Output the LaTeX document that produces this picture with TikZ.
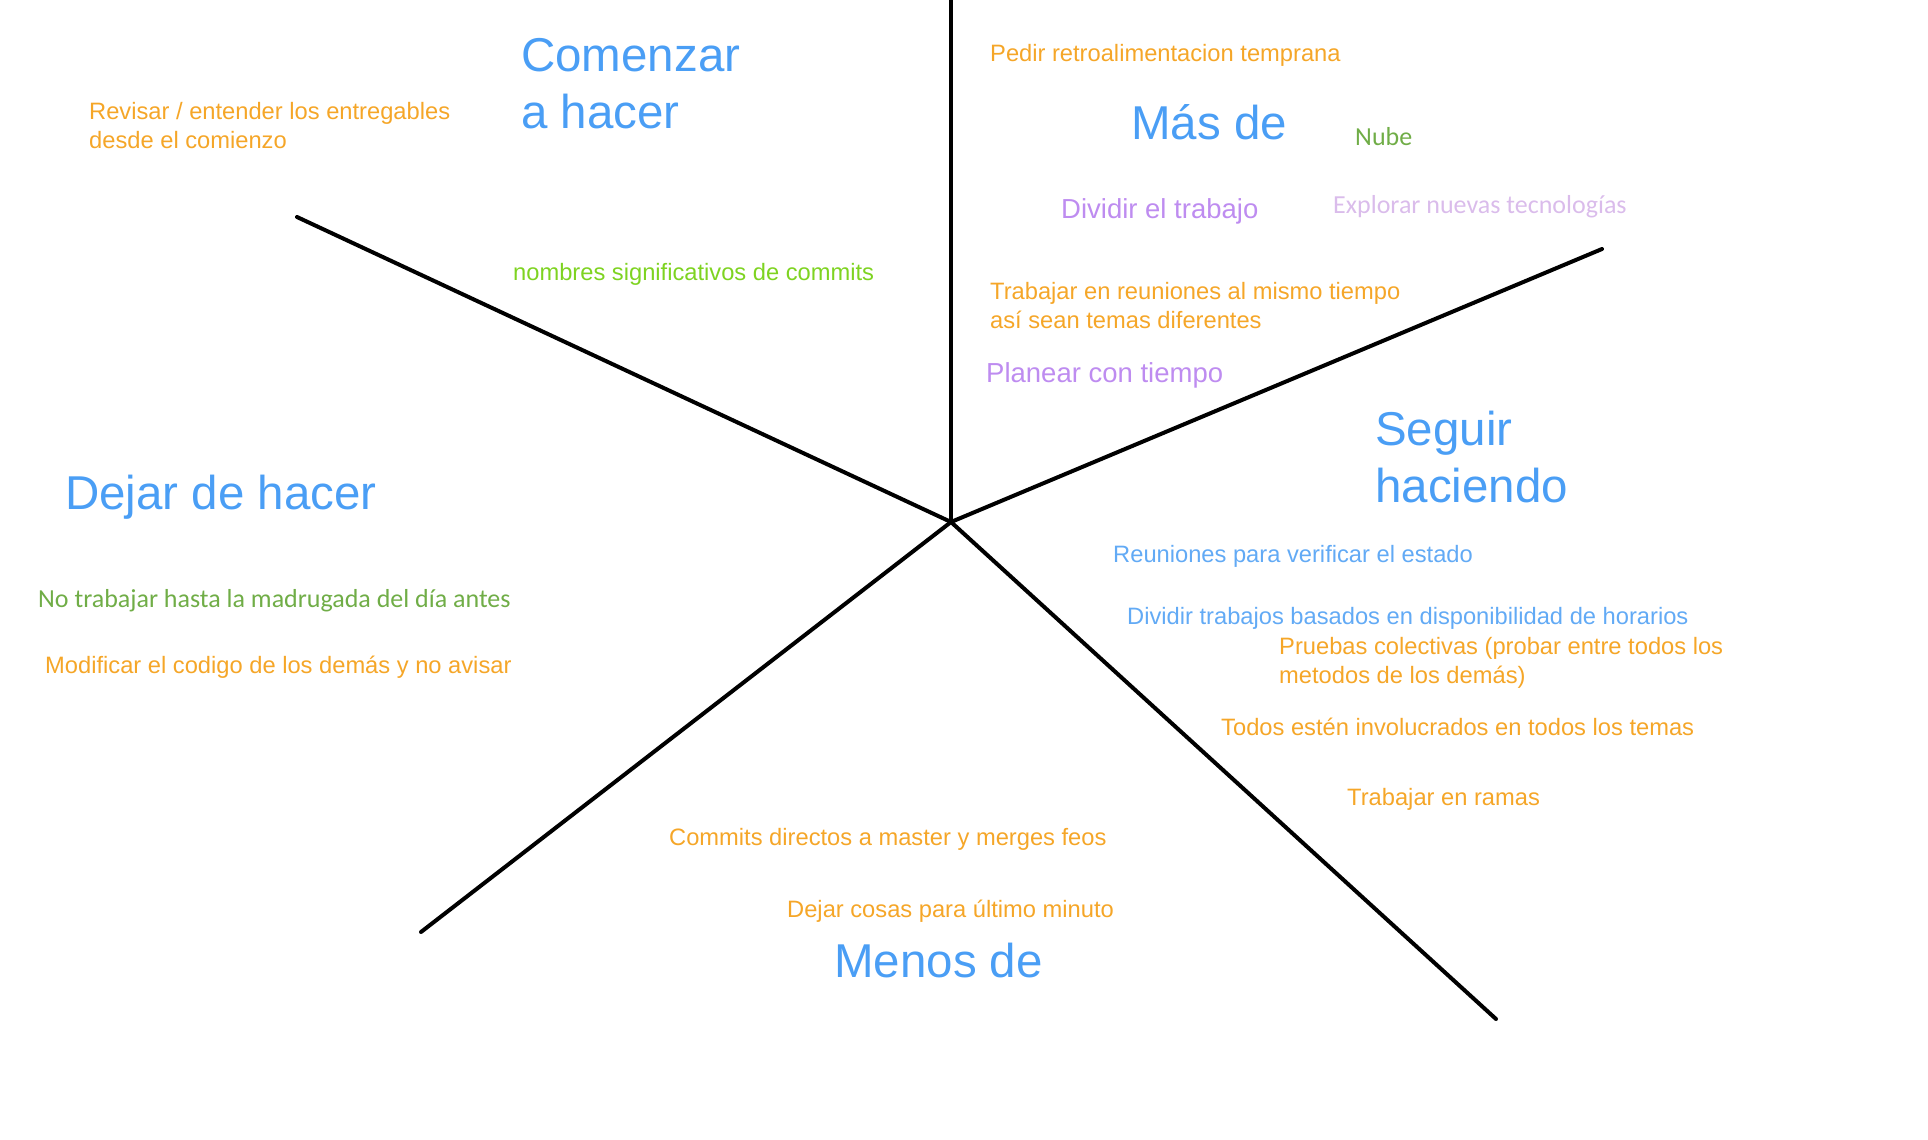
\documentclass[tikz,border=0pt]{standalone}
\usepackage{fontspec}
\setmainfont{Liberation Sans}
\newfontfamily\calibri{Carlito}
\usepackage{tikz}

\definecolor{azul}{RGB}{74,158,245}
\definecolor{azulclaro}{RGB}{98,170,245}
\definecolor{naranja}{RGB}{245,166,40}
\definecolor{verdeclaro}{RGB}{126,211,33}
\definecolor{verdeoscuro}{RGB}{112,173,71}
\definecolor{morado}{RGB}{190,140,240}
\definecolor{lila}{RGB}{218,188,235}

\begin{document}
\begin{tikzpicture}[
        x=1pt, y=-1pt,
        every node/.style = {
            anchor=base west,
            inner sep=0pt,
            align=left
        },
        titulo/.style = {
            text=azul,
            font=\fontsize{47.5}{57}\selectfont
        },
        nota/.style = {
            font=\fontsize{23.7}{29}\selectfont
        },
        notagrande/.style = {
            font=\fontsize{27.5}{33}\selectfont
        },
        notacal/.style = {
            font=\calibri\fontsize{26}{29}\selectfont
        },
        linea/.style = {
            line width=4pt,
            line cap=round
        }]
        \useasboundingbox (0,0) rectangle (1928,1140);

        % estrella
        \coordinate (centro) at (951,522);
        \coordinate (arriba) at (951,-5);
        \coordinate (izq) at (297,217);
        \coordinate (der) at (1602,249);
        \coordinate (abajoizq) at (421,932);
        \coordinate (abajoder) at (1496,1019);
        \foreach \p in {arriba, izq, der, abajoizq, abajoder}
            \draw[linea] (centro) -- (\p);

        % titulos (base = ultima linea)
        \node[titulo] (comenzar) at (521,128) {Comenzar\\a hacer};
        \node[titulo] (masde) at (1131,139) {Más de};
        \node[titulo] (seguir) at (1375,502) {Seguir\\haciendo};
        \node[titulo] (menosde) at (834,977) {Menos de};
        \node[titulo] (dejar) at (65,509) {Dejar de hacer};

        % comenzar a hacer
        \node[nota, text=naranja] (revisar) at (89,148) {Revisar / entender los entregables\\desde el comienzo};
        \node[nota, text=verdeclaro] (nombres) at (513,280) {nombres significativos de commits};

        % mas de
        \node[nota, text=naranja] (pedir) at (990,62) {Pedir retroalimentacion temprana};
        \node[notacal, text=verdeoscuro] (nube) at (1355,145) {Nube};
        \node[notagrande, text=morado] (dividir) at (1061,218) {Dividir el trabajo};
        \node[notacal, text=lila] (explorar) at (1333,213) {Explorar nuevas tecnologías};
        \node[nota, text=naranja] (reuniones) at (990,328) {Trabajar en reuniones al mismo tiempo\\así sean temas diferentes};
        \node[notagrande, text=morado] (planear) at (986,382) {Planear con tiempo};

        % seguir haciendo
        \node[nota, text=azulclaro] (estado) at (1113,562) {Reuniones para verificar el estado};
        \node[nota, text=azulclaro] (horarios) at (1127,624) {Dividir trabajos basados en disponibilidad de horarios};
        \node[nota, text=naranja] (pruebas) at (1279,683) {Pruebas colectivas (probar entre todos los\\metodos de los demás)};
        \node[nota, text=naranja] (todos) at (1221,735) {Todos estén involucrados en todos los temas};
        \node[nota, text=naranja] (ramas) at (1347,805) {Trabajar en ramas};

        % menos de
        \node[nota, text=naranja] (commits) at (669,845) {Commits directos a master y merges feos};
        \node[nota, text=naranja] (ultimo) at (787,917) {Dejar cosas para último minuto};

        % dejar de hacer
        \node[notacal, text=verdeoscuro] (madrugada) at (38,607) {No trabajar hasta la madrugada del día antes};
        \node[nota, text=naranja] (modificar) at (45,673) {Modificar el codigo de los demás y no avisar};
    \end{tikzpicture}
\end{document}
